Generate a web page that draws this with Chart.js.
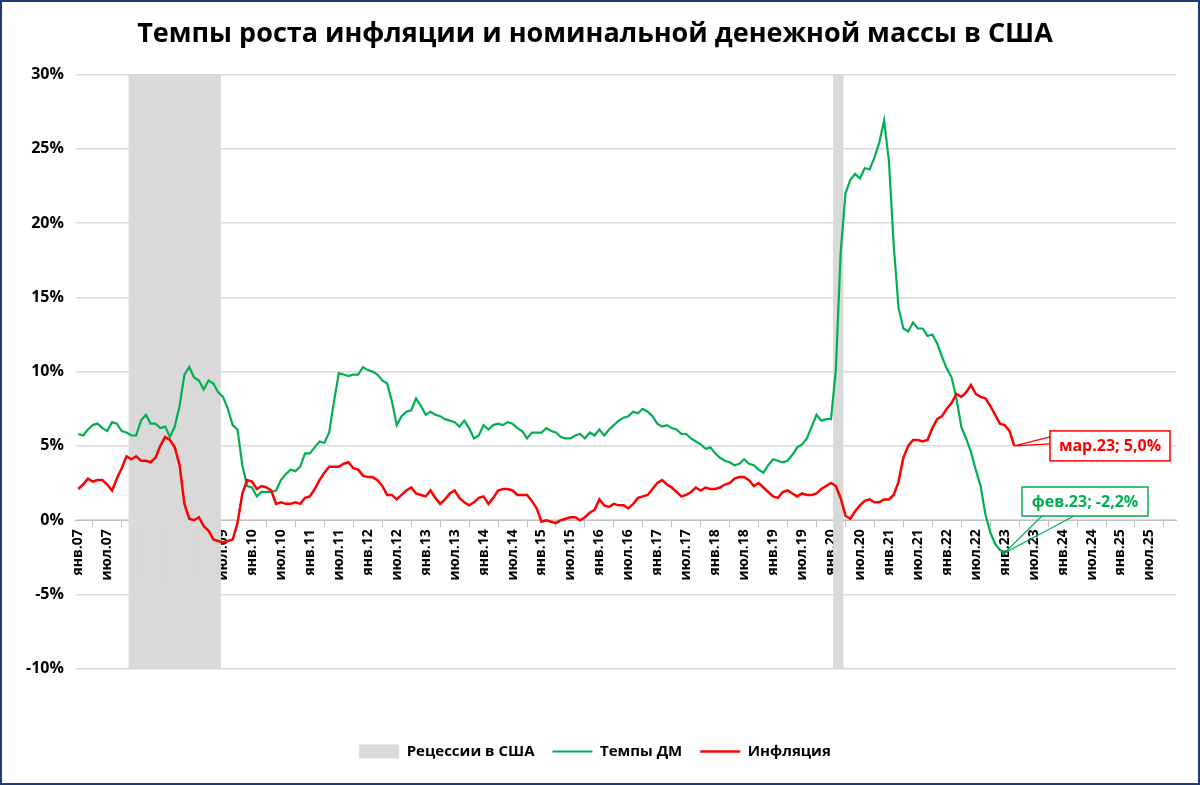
<!DOCTYPE html>
<html>
<head>
<meta charset="utf-8">
<script src="https://cdn.jsdelivr.net/npm/chart.js@4"></script>
<style>
  body { margin: 0; background: #fff; }
  #wrap { width: 1200px; height: 785px; box-sizing: border-box; border: 2px solid #1f3b6e; }
  canvas { display: block; }
</style>
</head>
<body>
<div id="wrap"><canvas id="c" width="1196" height="781"></canvas></div>
<script>
// месяцы янв.07 - дек.25
const monthNames = ["янв.", "фев.", "мар.", "апр.", "май.", "июн.", "июл.", "авг.", "сен.", "окт.", "ноя.", "дек."];
const labels = [];
for (let y = 7; y <= 25; y++) {
  for (let m = 0; m < 12; m++) labels.push(monthNames[m] + String(y).padStart(2, "0"));
}

// темпы роста денежной массы, % г/г
const moneyGrowth = [
  5.8, 5.7, 6.1, 6.4, 6.5, 6.2, 6.0, 6.6, 6.5, 6.0, 5.9, 5.7,
  5.7, 6.7, 7.1, 6.5, 6.5, 6.2, 6.3, 5.6, 6.3, 7.7, 9.8, 10.3,
  9.6, 9.4, 8.8, 9.4, 9.2, 8.6, 8.3, 7.5, 6.4, 6.1, 3.7, 2.3,
  2.2, 1.6, 1.9, 1.9, 1.9, 2.0, 2.7, 3.1, 3.4, 3.3, 3.6, 4.5,
  4.5, 4.9, 5.3, 5.2, 5.9, 8.0, 9.9, 9.8, 9.7, 9.8, 9.8, 10.3,
  10.1, 10.0, 9.8, 9.4, 9.2, 8.0, 6.4, 7.0, 7.3, 7.4, 8.2, 7.7,
  7.1, 7.3, 7.1, 7.0, 6.8, 6.7, 6.6, 6.3, 6.7, 6.2, 5.5, 5.7,
  6.4, 6.1, 6.4, 6.5, 6.4, 6.6, 6.5, 6.2, 6.0, 5.5, 5.9, 5.9,
  5.9, 6.2, 6.0, 5.9, 5.6, 5.5, 5.5, 5.7, 5.8, 5.5, 5.9, 5.7,
  6.1, 5.7, 6.1, 6.4, 6.7, 6.9, 7.0, 7.3, 7.2, 7.5, 7.3, 7.0,
  6.5, 6.3, 6.4, 6.2, 6.1, 5.8, 5.8, 5.5, 5.3, 5.1, 4.8, 4.9,
  4.5, 4.2, 4.0, 3.9, 3.7, 3.8, 4.1, 3.8, 3.7, 3.4, 3.2, 3.7,
  4.1, 4.0, 3.9, 4.0, 4.4, 4.9, 5.1, 5.5, 6.3, 7.1, 6.7, 6.8,
  6.8, 10.1, 18.0, 22.0, 22.9, 23.3, 23.0, 23.7, 23.6, 24.4, 25.4,
  26.9, 24.2, 18.5, 14.3, 12.9, 12.7, 13.3, 12.9, 12.9, 12.4, 12.5, 11.9,
  11.0, 10.2, 9.6, 8.2, 6.3, 5.5, 4.6, 3.4, 2.3, 0.4, -0.8, -1.6,
  -2.0, -2.2
];

// инфляция, % г/г
const inflation = [
  2.1, 2.4, 2.8, 2.6, 2.7, 2.7, 2.4, 2.0, 2.8, 3.5, 4.3, 4.1,
  4.3, 4.0, 4.0, 3.9, 4.2, 5.0, 5.6, 5.4, 4.9, 3.7, 1.1, 0.1,
  0.0, 0.2, -0.4, -0.7, -1.3, -1.4, -1.5, -1.4, -1.3, -0.2, 1.8, 2.7,
  2.6, 2.1, 2.3, 2.2, 2.0, 1.1, 1.2, 1.1, 1.1, 1.2, 1.1, 1.5,
  1.6, 2.1, 2.7, 3.2, 3.6, 3.6, 3.6, 3.8, 3.9, 3.5, 3.4, 3.0,
  2.9, 2.9, 2.7, 2.3, 1.7, 1.7, 1.4, 1.7, 2.0, 2.2, 1.8, 1.7,
  1.6, 2.0, 1.5, 1.1, 1.4, 1.8, 2.0, 1.5, 1.2, 1.0, 1.2, 1.5,
  1.6, 1.1, 1.5, 2.0, 2.1, 2.1, 2.0, 1.7, 1.7, 1.7, 1.3, 0.8,
  -0.1, 0.0, -0.1, -0.2, 0.0, 0.1, 0.2, 0.2, 0.0, 0.2, 0.5, 0.7,
  1.4, 1.0, 0.9, 1.1, 1.0, 1.0, 0.8, 1.1, 1.5, 1.6, 1.7, 2.1,
  2.5, 2.7, 2.4, 2.2, 1.9, 1.6, 1.7, 1.9, 2.2, 2.0, 2.2, 2.1,
  2.1, 2.2, 2.4, 2.5, 2.8, 2.9, 2.9, 2.7, 2.3, 2.5, 2.2, 1.9,
  1.6, 1.5, 1.9, 2.0, 1.8, 1.6, 1.8, 1.7, 1.7, 1.8, 2.1, 2.3,
  2.5, 2.3, 1.5, 0.3, 0.1, 0.6, 1.0, 1.3, 1.4, 1.2, 1.2, 1.4,
  1.4, 1.7, 2.6, 4.2, 5.0, 5.4, 5.4, 5.3, 5.4, 6.2, 6.8, 7.0,
  7.5, 7.9, 8.5, 8.3, 8.6, 9.1, 8.5, 8.3, 8.2, 7.7, 7.1, 6.5,
  6.4, 6.0, 5.0
];

// рецессии: дек.07 - июн.09, фев.20 - апр.20
const recessionMonths = [[11, 29], [157, 158]];
const recession = labels.map((l, i) =>
  recessionMonths.some(r => i >= r[0] && i <= r[1]) ? [-10, 30] : null);

const yTicks = [-10, -5, 0, 5, 10, 15, 20, 25, 30];

const calloutPlugin = {
  id: "callouts",
  afterDatasetsDraw(chart) {
    const ctx = chart.ctx;
    const xs = chart.scales.x, ys = chart.scales.y;
    ctx.save();
    ctx.font = "bold 16px 'Open Sans', sans-serif";
    ctx.textBaseline = "middle";
    ctx.textAlign = "center";

    // инфляция
    const ri = inflation.length - 1;
    const rx = xs.getPixelForValue(ri), ry = ys.getPixelForValue(inflation[ri]);
    const rb = { x: 1048, y: ry - 15, w: 120, h: 30 };
    ctx.strokeStyle = "#ff0000"; ctx.lineWidth = 1.2;
    ctx.beginPath(); ctx.moveTo(rb.x, rb.y + 6); ctx.lineTo(rx, ry); ctx.lineTo(rb.x, rb.y + 13); ctx.stroke();
    ctx.fillStyle = "#fff"; ctx.fillRect(rb.x, rb.y, rb.w, rb.h);
    ctx.lineWidth = 1.5; ctx.strokeRect(rb.x, rb.y, rb.w, rb.h);
    ctx.fillStyle = "#ff0000";
    ctx.fillText("мар.23; " + inflation[ri].toFixed(1).replace(".", ",") + "%", rb.x + rb.w / 2, rb.y + rb.h / 2 + 1);

    // денежная масса
    const gi = moneyGrowth.length - 1;
    const gx = xs.getPixelForValue(gi), gy = ys.getPixelForValue(moneyGrowth[gi]);
    const gb = { x: 1020, y: 485, w: 126, h: 29 };
    ctx.strokeStyle = "#00b050"; ctx.lineWidth = 1.2;
    ctx.beginPath(); ctx.moveTo(gb.x + 20, gb.y + gb.h); ctx.lineTo(gx, gy); ctx.lineTo(gb.x + 52, gb.y + gb.h); ctx.stroke();
    ctx.fillStyle = "#fff"; ctx.fillRect(gb.x, gb.y, gb.w, gb.h);
    ctx.lineWidth = 1.5; ctx.strokeRect(gb.x, gb.y, gb.w, gb.h);
    ctx.fillStyle = "#00b050";
    ctx.fillText("фев.23; " + moneyGrowth[gi].toFixed(1).replace(".", ",") + "%", gb.x + gb.w / 2, gb.y + gb.h / 2 + 1);
    ctx.restore();
  }
};

Chart.defaults.font.family = "'Open Sans', sans-serif";
Chart.defaults.color = "#000";

new Chart(document.getElementById("c"), {
  type: "line",
  data: {
    labels: labels,
    datasets: [
      {
        type: "bar", label: "Рецессии в США", data: recession,
        backgroundColor: "#d9d9d9", barPercentage: 1, categoryPercentage: 1,
        pointStyle: "rect", order: 3
      },
      {
        label: "Темпы ДМ", data: moneyGrowth, borderColor: "#00b050", backgroundColor: "#00b050",
        borderWidth: 2.2, pointRadius: 0, tension: 0, pointStyle: "line", order: 2
      },
      {
        label: "Инфляция", data: inflation, borderColor: "#ff0000", backgroundColor: "#ff0000",
        borderWidth: 2.5, pointRadius: 0, tension: 0, pointStyle: "line", order: 1
      }
    ]
  },
  options: {
    responsive: false,
    animation: false,
    layout: { padding: { left: 12, right: 22, top: 4, bottom: 14 } },
    plugins: {
      title: {
        display: true, text: "Темпы роста инфляции и номинальной денежной массы в США",
        font: { size: 27, weight: "bold" }, padding: { top: 12, bottom: 24 }
      },
      legend: {
        position: "bottom",
        title: { display: true, text: " ", font: { size: 6 }, padding: { top: 50, bottom: 0 } },
        labels: {
          usePointStyle: true, pointStyleWidth: 40, font: { size: 15, weight: "bold" }, padding: 18, boxHeight: 14,
          sort: (a, b) => a.datasetIndex - b.datasetIndex
        }
      },
      tooltip: { enabled: false }
    },
    scales: {
      x: {
        position: { y: 0 },
        z: 1,
        grid: { display: true, drawOnChartArea: false, color: "#bfbfbf", tickLength: 6 },
        border: { color: "#bfbfbf" },
        ticks: {
          autoSkip: false, maxRotation: 90, minRotation: 90,
          font: { size: 14, weight: "bold" }, color: "#000",
          callback: (v, i) => (i % 6 === 0 ? labels[i] : null)
        }
      },
      y: {
        min: -10, max: 30,
        afterBuildTicks: (axis) => { axis.ticks = yTicks.map(v => ({ value: v })); },
        grid: { color: "#d9d9d9", lineWidth: 1.5, drawTicks: false },
        border: { display: false },
        ticks: { font: { size: 16, weight: "bold" }, padding: 12, callback: v => v + "%" }
      }
    }
  },
  plugins: [calloutPlugin]
});
</script>
</body>
</html>
